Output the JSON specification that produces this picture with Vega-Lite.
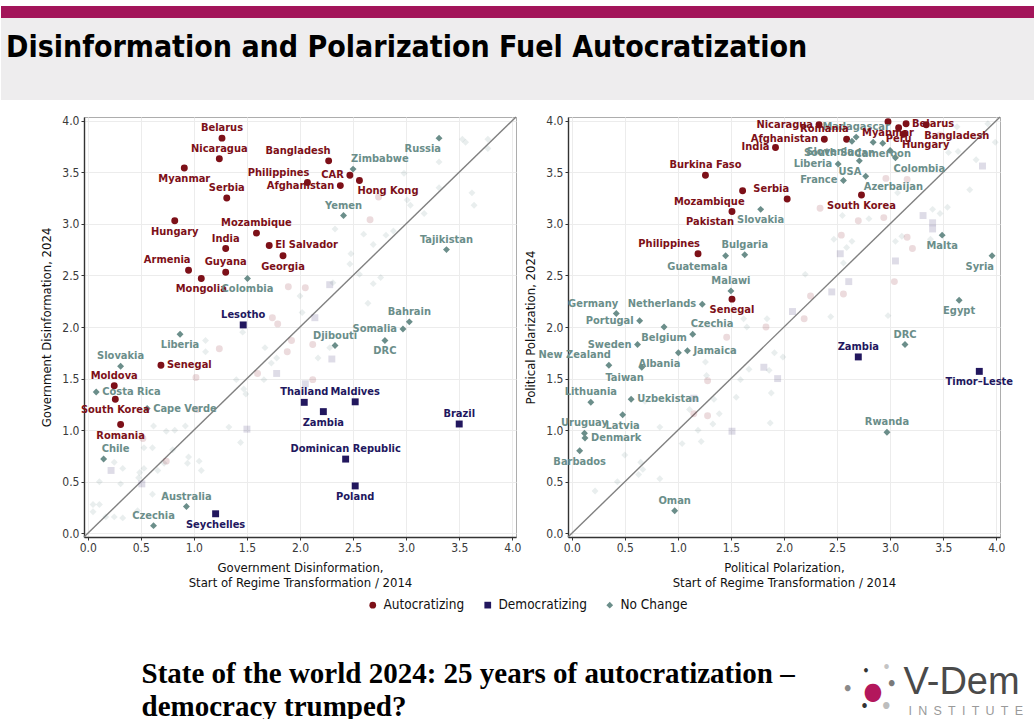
{
  "$schema": "https://vega.github.io/schema/vega-lite/v6.json",
  "background": "white",
  "padding": {"left": 0, "top": 6, "right": 0, "bottom": 0},
  "spacing": 0,
  "config": {
    "font": "DejaVu Sans Condensed, sans-serif",
    "view": {"stroke": null},
    "axis": {
      "labelFontSize": 12, "labelColor": "#3a3a3a", "titleFontSize": 13, "titleFontWeight": "normal",
      "titleColor": "#111", "domainColor": "#333", "domainWidth": 1.4, "tickColor": "#333", "tickSize": 3,
      "labelPadding": 2, "gridColor": "#ececec", "gridWidth": 1, "titlePadding": 8
    },
    "text": {"fontSize": 11, "fontWeight": "bold", "baseline": "middle"},
    "legend": {"labelFontSize": 13.5, "labelColor": "#111", "symbolOpacity": 1, "layout": {"bottom": {"anchor": "middle"}}}
  },
  "resolve": {"scale": {"color": "independent", "shape": "independent", "opacity": "independent"}},
  "datasets": {
    "diag": [{"x": -0.035, "y": -0.035}, {"x": 4.035, "y": 4.035}],
    "gov": [
      {"x":3.53,"y":3.82,"g":"No Change","hl":"no"},{"x":3.56,"y":3.79,"g":"No Change","hl":"no"},{"x":3.77,"y":3.82,"g":"No Change","hl":"no"},{"x":3.77,"y":3.73,"g":"No Change","hl":"no"},
      {"x":3.31,"y":3.60,"g":"No Change","hl":"no"},{"x":2.98,"y":3.49,"g":"No Change","hl":"no"},{"x":3.31,"y":3.35,"g":"No Change","hl":"no"},{"x":3.62,"y":3.30,"g":"No Change","hl":"no"},
      {"x":3.64,"y":3.18,"g":"No Change","hl":"no"},{"x":3.01,"y":3.23,"g":"No Change","hl":"no"},{"x":3.04,"y":3.18,"g":"No Change","hl":"no"},{"x":3.17,"y":3.10,"g":"No Change","hl":"no"},
      {"x":2.74,"y":3.26,"g":"Autocratizing","hl":"no"},{"x":2.66,"y":3.04,"g":"Autocratizing","hl":"no"},{"x":2.33,"y":2.95,"g":"No Change","hl":"no"},{"x":2.60,"y":2.90,"g":"No Change","hl":"no"},
      {"x":2.81,"y":2.89,"g":"No Change","hl":"no"},{"x":2.88,"y":2.93,"g":"No Change","hl":"no"},{"x":2.69,"y":2.80,"g":"No Change","hl":"no"},{"x":2.48,"y":2.71,"g":"No Change","hl":"no"},
      {"x":2.47,"y":2.61,"g":"No Change","hl":"no"},{"x":2.56,"y":2.51,"g":"No Change","hl":"no"},{"x":2.69,"y":2.42,"g":"No Change","hl":"no"},{"x":2.76,"y":2.48,"g":"No Change","hl":"no"},
      {"x":2.28,"y":2.41,"g":"Democratizing","hl":"no"},{"x":2.31,"y":2.43,"g":"No Change","hl":"no"},{"x":1.89,"y":2.39,"g":"Autocratizing","hl":"no"},{"x":2.05,"y":2.38,"g":"Autocratizing","hl":"no"},
      {"x":1.74,"y":2.09,"g":"Autocratizing","hl":"no"},{"x":1.79,"y":2.03,"g":"Autocratizing","hl":"no"},{"x":1.46,"y":1.95,"g":"No Change","hl":"no"},{"x":1.92,"y":1.87,"g":"Autocratizing","hl":"no"},
      {"x":1.11,"y":1.87,"g":"No Change","hl":"no"},{"x":1.11,"y":1.76,"g":"No Change","hl":"no"},{"x":1.24,"y":1.79,"g":"Autocratizing","hl":"no"},{"x":1.67,"y":1.80,"g":"No Change","hl":"no"},
      {"x":1.88,"y":1.76,"g":"Autocratizing","hl":"no"},{"x":1.78,"y":1.70,"g":"No Change","hl":"no"},{"x":1.73,"y":1.65,"g":"No Change","hl":"no"},{"x":1.78,"y":1.55,"g":"Democratizing","hl":"no"},
      {"x":1.60,"y":1.55,"g":"Autocratizing","hl":"no"},{"x":1.02,"y":1.51,"g":"Autocratizing","hl":"no"},{"x":1.40,"y":1.49,"g":"No Change","hl":"no"},{"x":1.47,"y":1.40,"g":"No Change","hl":"no"},
      {"x":1.49,"y":1.35,"g":"No Change","hl":"no"},{"x":1.66,"y":1.49,"g":"No Change","hl":"no"},{"x":1.03,"y":1.20,"g":"Autocratizing","hl":"no"},{"x":0.62,"y":1.04,"g":"No Change","hl":"no"},
      {"x":0.74,"y":0.99,"g":"No Change","hl":"no"},{"x":0.82,"y":1.00,"g":"No Change","hl":"no"},{"x":0.92,"y":1.04,"g":"No Change","hl":"no"},{"x":1.33,"y":1.03,"g":"No Change","hl":"no"},
      {"x":1.50,"y":1.01,"g":"Democratizing","hl":"no"},{"x":0.52,"y":0.92,"g":"Autocratizing","hl":"no"},{"x":1.44,"y":0.88,"g":"No Change","hl":"no"},{"x":0.53,"y":0.83,"g":"No Change","hl":"no"},
      {"x":0.61,"y":0.83,"g":"No Change","hl":"no"},{"x":0.25,"y":0.69,"g":"No Change","hl":"no"},{"x":0.22,"y":0.61,"g":"Democratizing","hl":"no"},{"x":0.33,"y":0.63,"g":"No Change","hl":"no"},
      {"x":0.53,"y":0.63,"g":"No Change","hl":"no"},{"x":0.66,"y":0.61,"g":"No Change","hl":"no"},{"x":0.72,"y":0.68,"g":"No Change","hl":"no"},{"x":0.74,"y":0.70,"g":"Autocratizing","hl":"no"},
      {"x":0.80,"y":0.81,"g":"No Change","hl":"no"},{"x":0.95,"y":0.74,"g":"No Change","hl":"no"},{"x":0.94,"y":0.68,"g":"No Change","hl":"no"},{"x":1.05,"y":0.70,"g":"No Change","hl":"no"},
      {"x":1.07,"y":0.61,"g":"No Change","hl":"no"},{"x":0.49,"y":0.59,"g":"No Change","hl":"no"},{"x":0.48,"y":0.54,"g":"No Change","hl":"no"},{"x":0.11,"y":0.50,"g":"No Change","hl":"no"},
      {"x":0.31,"y":0.48,"g":"No Change","hl":"no"},{"x":0.47,"y":0.22,"g":"No Change","hl":"no"},{"x":0.33,"y":0.15,"g":"No Change","hl":"no"},{"x":0.25,"y":0.16,"g":"No Change","hl":"no"},
      {"x":0.05,"y":0.28,"g":"No Change","hl":"no"},{"x":0.11,"y":0.28,"g":"No Change","hl":"no"},{"x":0.05,"y":0.21,"g":"No Change","hl":"no"},{"x":0.17,"y":0.16,"g":"No Change","hl":"no"},
      {"x":0.61,"y":0.38,"g":"No Change","hl":"no"},{"x":0.73,"y":0.38,"g":"No Change","hl":"no"},{"x":0.51,"y":0.48,"g":"Democratizing","hl":"no"},{"x":2.00,"y":2.30,"g":"No Change","hl":"no"},
      {"x":2.02,"y":2.14,"g":"No Change","hl":"no"},{"x":2.14,"y":2.09,"g":"Democratizing","hl":"no"},{"x":2.64,"y":2.23,"g":"No Change","hl":"no"},{"x":2.12,"y":1.83,"g":"Autocratizing","hl":"no"},
      {"x":2.17,"y":1.70,"g":"No Change","hl":"no"},{"x":2.30,"y":1.69,"g":"Democratizing","hl":"no"},{"x":2.28,"y":1.80,"g":"No Change","hl":"no"},{"x":2.05,"y":1.45,"g":"Democratizing","hl":"no"},
      {"x":2.12,"y":1.49,"g":"Autocratizing","hl":"no"},
      {"c":"Belarus","x":1.265,"y":3.83,"g":"Autocratizing","hl":"yes","side":"above"},
      {"c":"Nicaragua","x":1.24,"y":3.63,"g":"Autocratizing","hl":"yes","side":"above"},
      {"c":"Myanmar","x":0.91,"y":3.54,"g":"Autocratizing","hl":"yes","side":"below"},
      {"c":"Serbia","x":1.31,"y":3.25,"g":"Autocratizing","hl":"yes","side":"above"},
      {"c":"Hungary","x":0.82,"y":3.03,"g":"Autocratizing","hl":"yes","side":"below"},
      {"c":"Mozambique","x":1.59,"y":2.91,"g":"Autocratizing","hl":"yes","side":"above"},
      {"c":"India","x":1.30,"y":2.76,"g":"Autocratizing","hl":"yes","side":"above"},
      {"c":"El Salvador","x":1.71,"y":2.79,"g":"Autocratizing","hl":"yes","side":"right"},
      {"c":"Georgia","x":1.84,"y":2.69,"g":"Autocratizing","hl":"yes","side":"below"},
      {"c":"Armenia","x":0.95,"y":2.55,"g":"Autocratizing","hl":"yes","side":"al"},
      {"c":"Guyana","x":1.30,"y":2.53,"g":"Autocratizing","hl":"yes","side":"above"},
      {"c":"Mongolia","x":1.07,"y":2.47,"g":"Autocratizing","hl":"yes","side":"below"},
      {"c":"Bangladesh","x":2.27,"y":3.61,"g":"Autocratizing","hl":"yes","side":"al"},
      {"c":"Philippines","x":2.07,"y":3.40,"g":"Autocratizing","hl":"yes","side":"al"},
      {"c":"Afghanistan","x":2.38,"y":3.37,"g":"Autocratizing","hl":"yes","side":"left"},
      {"c":"CAR","x":2.47,"y":3.47,"g":"Autocratizing","hl":"yes","side":"left"},
      {"c":"Hong Kong","x":2.56,"y":3.42,"g":"Autocratizing","hl":"yes","side":"br"},
      {"c":"Senegal","x":0.69,"y":1.63,"g":"Autocratizing","hl":"yes","side":"right"},
      {"c":"Moldova","x":0.25,"y":1.43,"g":"Autocratizing","hl":"yes","side":"above"},
      {"c":"South Korea","x":0.26,"y":1.30,"g":"Autocratizing","hl":"yes","side":"below"},
      {"c":"Romania","x":0.31,"y":1.055,"g":"Autocratizing","hl":"yes","side":"below"},
      {"c":"Lesotho","x":1.465,"y":2.02,"g":"Democratizing","hl":"yes","side":"above"},
      {"c":"Seychelles","x":1.205,"y":0.19,"g":"Democratizing","hl":"yes","side":"below"},
      {"c":"Thailand","x":2.04,"y":1.27,"g":"Democratizing","hl":"yes","side":"above"},
      {"c":"Zambia","x":2.22,"y":1.18,"g":"Democratizing","hl":"yes","side":"below"},
      {"c":"Maldives","x":2.52,"y":1.275,"g":"Democratizing","hl":"yes","side":"above"},
      {"c":"Brazil","x":3.50,"y":1.06,"g":"Democratizing","hl":"yes","side":"above"},
      {"c":"Dominican Republic","x":2.43,"y":0.72,"g":"Democratizing","hl":"yes","side":"above"},
      {"c":"Poland","x":2.52,"y":0.46,"g":"Democratizing","hl":"yes","side":"below"},
      {"c":"Colombia","x":1.505,"y":2.47,"g":"No Change","hl":"yes","side":"below"},
      {"c":"Zimbabwe","x":2.50,"y":3.53,"g":"No Change","hl":"yes","side":"ar"},
      {"c":"Yemen","x":2.41,"y":3.08,"g":"No Change","hl":"yes","side":"above"},
      {"c":"Russia","x":3.31,"y":3.83,"g":"No Change","hl":"yes","side":"bl"},
      {"c":"Tajikistan","x":3.38,"y":2.75,"g":"No Change","hl":"yes","side":"above"},
      {"c":"Liberia","x":0.87,"y":1.93,"g":"No Change","hl":"yes","side":"below"},
      {"c":"Slovakia","x":0.31,"y":1.62,"g":"No Change","hl":"yes","side":"above"},
      {"c":"Costa Rica","x":0.08,"y":1.37,"g":"No Change","hl":"yes","side":"right"},
      {"c":"Cape Verde","x":0.56,"y":1.21,"g":"No Change","hl":"yes","side":"right"},
      {"c":"Chile","x":0.15,"y":0.72,"g":"No Change","hl":"yes","side":"ar"},
      {"c":"Australia","x":0.93,"y":0.26,"g":"No Change","hl":"yes","side":"above"},
      {"c":"Czechia","x":0.62,"y":0.075,"g":"No Change","hl":"yes","side":"above"},
      {"c":"Bahrain","x":3.03,"y":2.05,"g":"No Change","hl":"yes","side":"above"},
      {"c":"Somalia","x":2.97,"y":1.98,"g":"No Change","hl":"yes","side":"left"},
      {"c":"DRC","x":2.80,"y":1.87,"g":"No Change","hl":"yes","side":"below"},
      {"c":"Djibouti","x":2.33,"y":1.82,"g":"No Change","hl":"yes","side":"above"}
    ],
    "pol": [
      {"x":3.63,"y":3.94,"g":"No Change","hl":"no"},{"x":3.92,"y":3.97,"g":"No Change","hl":"no"},{"x":3.99,"y":3.79,"g":"No Change","hl":"no"},{"x":3.47,"y":3.86,"g":"Autocratizing","hl":"no"},
      {"x":3.55,"y":3.69,"g":"No Change","hl":"no"},{"x":3.64,"y":3.70,"g":"No Change","hl":"no"},{"x":3.81,"y":3.62,"g":"No Change","hl":"no"},{"x":3.87,"y":3.56,"g":"Democratizing","hl":"no"},
      {"x":3.75,"y":3.33,"g":"No Change","hl":"no"},{"x":3.16,"y":3.43,"g":"Autocratizing","hl":"no"},{"x":2.96,"y":3.44,"g":"Autocratizing","hl":"no"},{"x":3.07,"y":3.30,"g":"No Change","hl":"no"},
      {"x":2.34,"y":3.15,"g":"Autocratizing","hl":"no"},{"x":2.55,"y":3.08,"g":"No Change","hl":"no"},{"x":2.70,"y":3.03,"g":"Autocratizing","hl":"no"},{"x":2.80,"y":3.05,"g":"No Change","hl":"no"},
      {"x":2.94,"y":3.06,"g":"Autocratizing","hl":"no"},{"x":3.40,"y":3.14,"g":"No Change","hl":"no"},{"x":3.47,"y":3.10,"g":"No Change","hl":"no"},{"x":3.54,"y":3.16,"g":"No Change","hl":"no"},
      {"x":3.31,"y":3.08,"g":"Democratizing","hl":"no"},{"x":3.40,"y":3.01,"g":"Democratizing","hl":"no"},{"x":3.40,"y":2.95,"g":"Democratizing","hl":"no"},{"x":2.47,"y":2.85,"g":"No Change","hl":"no"},
      {"x":2.59,"y":2.77,"g":"No Change","hl":"no"},{"x":2.64,"y":2.83,"g":"No Change","hl":"no"},{"x":2.54,"y":2.89,"g":"Autocratizing","hl":"no"},{"x":2.53,"y":2.71,"g":"Democratizing","hl":"no"},
      {"x":2.56,"y":2.62,"g":"No Change","hl":"no"},{"x":3.05,"y":2.83,"g":"No Change","hl":"no"},{"x":3.11,"y":2.88,"g":"No Change","hl":"no"},{"x":3.16,"y":2.87,"g":"Autocratizing","hl":"no"},
      {"x":3.21,"y":2.76,"g":"Autocratizing","hl":"no"},{"x":3.38,"y":2.85,"g":"No Change","hl":"no"},{"x":3.05,"y":2.64,"g":"Democratizing","hl":"no"},{"x":2.20,"y":2.51,"g":"No Change","hl":"no"},
      {"x":2.45,"y":2.34,"g":"Democratizing","hl":"no"},{"x":2.61,"y":2.44,"g":"Democratizing","hl":"no"},{"x":2.56,"y":2.32,"g":"Autocratizing","hl":"no"},{"x":3.04,"y":2.44,"g":"Autocratizing","hl":"no"},
      {"x":2.25,"y":2.30,"g":"Autocratizing","hl":"no"},{"x":1.62,"y":2.08,"g":"No Change","hl":"no"},{"x":1.65,"y":2.00,"g":"No Change","hl":"no"},{"x":1.83,"y":2.00,"g":"Autocratizing","hl":"no"},
      {"x":1.84,"y":2.08,"g":"No Change","hl":"no"},{"x":2.08,"y":2.15,"g":"Democratizing","hl":"no"},{"x":1.46,"y":1.90,"g":"Autocratizing","hl":"no"},{"x":1.52,"y":1.77,"g":"No Change","hl":"no"},
      {"x":1.26,"y":1.66,"g":"No Change","hl":"no"},{"x":1.91,"y":1.75,"g":"No Change","hl":"no"},{"x":1.99,"y":1.71,"g":"No Change","hl":"no"},{"x":1.67,"y":1.59,"g":"No Change","hl":"no"},
      {"x":1.86,"y":1.58,"g":"No Change","hl":"no"},{"x":1.81,"y":1.61,"g":"Democratizing","hl":"no"},{"x":1.94,"y":1.50,"g":"Democratizing","hl":"no"},{"x":1.28,"y":1.48,"g":"Autocratizing","hl":"no"},
      {"x":1.27,"y":1.53,"g":"No Change","hl":"no"},{"x":1.59,"y":1.49,"g":"No Change","hl":"no"},{"x":1.88,"y":1.36,"g":"No Change","hl":"no"},{"x":1.55,"y":1.32,"g":"No Change","hl":"no"},
      {"x":1.34,"y":1.30,"g":"No Change","hl":"no"},{"x":1.15,"y":1.31,"g":"Democratizing","hl":"no"},{"x":1.15,"y":1.16,"g":"Autocratizing","hl":"no"},{"x":1.11,"y":1.20,"g":"No Change","hl":"no"},
      {"x":1.28,"y":1.14,"g":"Autocratizing","hl":"no"},{"x":1.39,"y":1.16,"g":"No Change","hl":"no"},{"x":1.33,"y":1.06,"g":"No Change","hl":"no"},{"x":1.19,"y":1.00,"g":"No Change","hl":"no"},
      {"x":1.51,"y":0.99,"g":"Democratizing","hl":"no"},{"x":1.22,"y":0.89,"g":"No Change","hl":"no"},{"x":1.04,"y":0.87,"g":"No Change","hl":"no"},{"x":1.87,"y":1.07,"g":"No Change","hl":"no"},
      {"x":0.69,"y":1.28,"g":"No Change","hl":"no"},{"x":0.83,"y":1.03,"g":"No Change","hl":"no"},{"x":0.48,"y":0.92,"g":"No Change","hl":"no"},{"x":0.50,"y":0.76,"g":"No Change","hl":"no"},
      {"x":0.65,"y":0.69,"g":"No Change","hl":"no"},{"x":0.67,"y":0.62,"g":"No Change","hl":"no"},{"x":0.63,"y":0.57,"g":"No Change","hl":"no"},{"x":0.83,"y":0.53,"g":"No Change","hl":"no"},
      {"x":0.43,"y":0.50,"g":"No Change","hl":"no"},{"x":0.22,"y":0.41,"g":"No Change","hl":"no"},{"x":2.19,"y":2.08,"g":"Autocratizing","hl":"no"},{"x":2.44,"y":2.10,"g":"No Change","hl":"no"},
      {"x":2.98,"y":2.11,"g":"No Change","hl":"no"},
      {"c":"Burkina Faso","x":1.26,"y":3.47,"g":"Autocratizing","hl":"yes","side":"above"},
      {"c":"India","x":1.92,"y":3.74,"g":"Autocratizing","hl":"yes","side":"left"},
      {"c":"Afghanistan","x":2.38,"y":3.82,"g":"Autocratizing","hl":"yes","side":"left"},
      {"c":"Nicaragua","x":2.33,"y":3.96,"g":"Autocratizing","hl":"yes","side":"left"},
      {"c":"Romania","x":2.59,"y":3.82,"g":"Autocratizing","hl":"yes","side":"al"},
      {"c":"Myanmar","x":2.98,"y":3.99,"g":"Autocratizing","hl":"yes","side":"below"},
      {"c":"Belarus","x":3.15,"y":3.97,"g":"Autocratizing","hl":"yes","side":"right"},
      {"c":"Bangladesh","x":3.34,"y":3.96,"g":"Autocratizing","hl":"yes","side":"br"},
      {"c":"Peru","x":3.08,"y":3.93,"g":"Autocratizing","hl":"yes","side":"below"},
      {"c":"Hungary","x":3.13,"y":3.87,"g":"Autocratizing","hl":"yes","side":"br"},
      {"c":"Serbia","x":2.03,"y":3.24,"g":"Autocratizing","hl":"yes","side":"al"},
      {"c":"Mozambique","x":1.61,"y":3.32,"g":"Autocratizing","hl":"yes","side":"bl"},
      {"c":"Pakistan","x":1.51,"y":3.12,"g":"Autocratizing","hl":"yes","side":"bl"},
      {"c":"South Korea","x":2.73,"y":3.28,"g":"Autocratizing","hl":"yes","side":"below"},
      {"c":"Philippines","x":1.19,"y":2.71,"g":"Autocratizing","hl":"yes","side":"al"},
      {"c":"Senegal","x":1.51,"y":2.27,"g":"Autocratizing","hl":"yes","side":"below"},
      {"c":"Zambia","x":2.70,"y":1.71,"g":"Democratizing","hl":"yes","side":"above"},
      {"c":"Timor–Leste","x":3.84,"y":1.57,"g":"Democratizing","hl":"yes","side":"below"},
      {"c":"Madagascar","x":2.68,"y":3.84,"g":"No Change","hl":"yes","side":"above"},
      {"c":"Slovenia","x":2.64,"y":3.80,"g":"No Change","hl":"yes","side":"bl"},
      {"c":"South Sudan","x":2.84,"y":3.79,"g":"No Change","hl":"yes","side":"bl"},
      {"c":"Cameroon","x":2.93,"y":3.78,"g":"No Change","hl":"yes","side":"below"},
      {"c":"Colombia","x":3.05,"y":3.64,"g":"No Change","hl":"yes","side":"br"},
      {"c":"","x":3.00,"y":3.71,"g":"No Change","hl":"yes"},
      {"c":"Liberia","x":2.51,"y":3.58,"g":"No Change","hl":"yes","side":"left"},
      {"c":"USA","x":2.71,"y":3.61,"g":"No Change","hl":"yes","side":"bl"},
      {"c":"France","x":2.56,"y":3.42,"g":"No Change","hl":"yes","side":"left"},
      {"c":"Azerbaijan","x":2.77,"y":3.46,"g":"No Change","hl":"yes","side":"br"},
      {"c":"Slovakia","x":1.78,"y":3.14,"g":"No Change","hl":"yes","side":"below"},
      {"c":"Guatemala","x":1.45,"y":2.69,"g":"No Change","hl":"yes","side":"bl"},
      {"c":"Bulgaria","x":1.63,"y":2.70,"g":"No Change","hl":"yes","side":"above"},
      {"c":"Malawi","x":1.50,"y":2.35,"g":"No Change","hl":"yes","side":"above"},
      {"c":"Germany","x":0.42,"y":2.13,"g":"No Change","hl":"yes","side":"al"},
      {"c":"Netherlands","x":1.23,"y":2.22,"g":"No Change","hl":"yes","side":"left"},
      {"c":"Portugal","x":0.64,"y":2.06,"g":"No Change","hl":"yes","side":"left"},
      {"c":"Belgium","x":0.87,"y":2.00,"g":"No Change","hl":"yes","side":"below"},
      {"c":"Sweden","x":0.62,"y":1.83,"g":"No Change","hl":"yes","side":"left"},
      {"c":"Czechia","x":1.14,"y":1.93,"g":"No Change","hl":"yes","side":"ar"},
      {"c":"Jamaica","x":1.09,"y":1.77,"g":"No Change","hl":"yes","side":"right"},
      {"c":"Albania","x":1.005,"y":1.75,"g":"No Change","hl":"yes","side":"bl"},
      {"c":"New Zealand","x":0.35,"y":1.63,"g":"No Change","hl":"yes","side":"al"},
      {"c":"Taiwan","x":0.66,"y":1.61,"g":"No Change","hl":"yes","side":"bl"},
      {"c":"Lithuania","x":0.18,"y":1.27,"g":"No Change","hl":"yes","side":"above"},
      {"c":"Uzbekistan","x":0.56,"y":1.30,"g":"No Change","hl":"yes","side":"right"},
      {"c":"Latvia","x":0.48,"y":1.15,"g":"No Change","hl":"yes","side":"below"},
      {"c":"Uruguay","x":0.12,"y":0.97,"g":"No Change","hl":"yes","side":"above"},
      {"c":"Denmark","x":0.125,"y":0.925,"g":"No Change","hl":"yes","side":"right"},
      {"c":"Barbados","x":0.075,"y":0.80,"g":"No Change","hl":"yes","side":"below"},
      {"c":"Oman","x":0.97,"y":0.22,"g":"No Change","hl":"yes","side":"above"},
      {"c":"Egypt","x":3.65,"y":2.26,"g":"No Change","hl":"yes","side":"below"},
      {"c":"Malta","x":3.49,"y":2.89,"g":"No Change","hl":"yes","side":"below"},
      {"c":"Syria","x":3.96,"y":2.69,"g":"No Change","hl":"yes","side":"bl"},
      {"c":"DRC","x":3.14,"y":1.83,"g":"No Change","hl":"yes","side":"above"},
      {"c":"Rwanda","x":2.97,"y":0.98,"g":"No Change","hl":"yes","side":"above"}
    ]
  },
  "vconcat": [
    {
      "width": 1034, "height": 12,
      "data": {"values": [{"part": "band"}]},
      "mark": {"type": "rect", "color": "#a3155a"},
      "encoding": {}
    },
    {
      "width": 1034, "height": 82,
      "view": {"fill": "#eeedee", "stroke": null},
      "data": {"values": [{"t": "Disinformation and Polarization Fuel Autocratization"}]},
      "mark": {"type": "text", "align": "left", "baseline": "middle", "fontSize": 30, "fontWeight": "bold", "color": "#000", "dx": 5},
      "encoding": {
        "x": {"datum": 0, "type": "quantitative", "scale": {"domain": [0, 1]}, "axis": null},
        "y": {"datum": 0.63, "type": "quantitative", "scale": {"domain": [0, 1]}, "axis": null},
        "text": {"field": "t"}
      }
    },
    {
      "width": 1, "height": 11,
      "view": {"stroke": "transparent"},
      "data": {"values": []},
      "mark": "point"
    },
    {
      "spacing": 0,
      "resolve": {"scale": {"color": "independent", "shape": "independent", "opacity": "independent"}},
      "hconcat": [
        {
          "width": 38, "height": 1,
          "view": {"stroke": "transparent"},
          "data": {"values": []},
          "mark": "point"
        },
        {
          "spacing": 2,
          "hconcat": [
            {
              "width": 432, "height": 420,
              "view": {"stroke": "#adadad"},
              "data": {"name": "gov"},
              "encoding": {
                "x": {"field": "x", "type": "quantitative", "scale": {"domain": [-0.035, 4.035], "nice": false, "zero": false},
                      "axis": {"values": [0, 0.5, 1, 1.5, 2, 2.5, 3, 3.5, 4], "format": ".1f", "title": ["Government Disinformation,", "Start of Regime Transformation / 2014"]}},
                "y": {"field": "y", "type": "quantitative", "scale": {"domain": [-0.035, 4.035], "nice": false, "zero": false},
                      "axis": {"values": [0, 0.5, 1, 1.5, 2, 2.5, 3, 3.5, 4], "format": ".1f", "title": "Government Disinformation, 2024"}}
              },
              "layer": [
                {"data": {"name": "diag"}, "mark": {"type": "line", "color": "#808080", "strokeWidth": 1.4}, "encoding": {}},
                {"mark": {"type": "point", "filled": true, "size": 48},
                 "encoding": {
                   "color": {"field": "g", "type": "nominal", "scale": {"domain": ["Autocratizing", "Democratizing", "No Change"], "range": ["#7d1018", "#22175e", "#6b8e8a"]},
                             "legend": {"orient": "bottom", "title": null, "direction": "horizontal", "symbolSize": 45, "columnPadding": 16, "offset": 8}},
                   "shape": {"field": "g", "type": "nominal", "scale": {"domain": ["Autocratizing", "Democratizing", "No Change"], "range": ["circle", "square", "diamond"]},
                             "legend": {"orient": "bottom", "title": null, "direction": "horizontal", "symbolSize": 45, "columnPadding": 16, "offset": 8}},
                   "opacity": {"field": "hl", "type": "nominal", "scale": {"domain": ["yes", "no"], "range": [1, 0.15]}, "legend": null}
                 }},
                {"transform": [{"filter": "datum.side === 'above'"}], "mark": {"type": "text", "dy": -10}, "encoding": {"text": {"field": "c"}, "color": {"field": "g", "type": "nominal"}}},
                {"transform": [{"filter": "datum.side === 'below'"}], "mark": {"type": "text", "dy": 11}, "encoding": {"text": {"field": "c"}, "color": {"field": "g", "type": "nominal"}}},
                {"transform": [{"filter": "datum.side === 'left'"}], "mark": {"type": "text", "align": "right", "dx": -6}, "encoding": {"text": {"field": "c"}, "color": {"field": "g", "type": "nominal"}}},
                {"transform": [{"filter": "datum.side === 'right'"}], "mark": {"type": "text", "align": "left", "dx": 6}, "encoding": {"text": {"field": "c"}, "color": {"field": "g", "type": "nominal"}}},
                {"transform": [{"filter": "datum.side === 'al'"}], "mark": {"type": "text", "align": "right", "dx": 2, "dy": -10}, "encoding": {"text": {"field": "c"}, "color": {"field": "g", "type": "nominal"}}},
                {"transform": [{"filter": "datum.side === 'ar'"}], "mark": {"type": "text", "align": "left", "dx": -2, "dy": -10}, "encoding": {"text": {"field": "c"}, "color": {"field": "g", "type": "nominal"}}},
                {"transform": [{"filter": "datum.side === 'bl'"}], "mark": {"type": "text", "align": "right", "dx": 2, "dy": 11}, "encoding": {"text": {"field": "c"}, "color": {"field": "g", "type": "nominal"}}},
                {"transform": [{"filter": "datum.side === 'br'"}], "mark": {"type": "text", "align": "left", "dx": -2, "dy": 11}, "encoding": {"text": {"field": "c"}, "color": {"field": "g", "type": "nominal"}}}
              ]
            },
            {
              "width": 432, "height": 420,
              "view": {"stroke": "#adadad"},
              "data": {"name": "pol"},
              "encoding": {
                "x": {"field": "x", "type": "quantitative", "scale": {"domain": [-0.035, 4.035], "nice": false, "zero": false},
                      "axis": {"values": [0, 0.5, 1, 1.5, 2, 2.5, 3, 3.5, 4], "format": ".1f", "title": ["Political Polarization,", "Start of Regime Transformation / 2014"]}},
                "y": {"field": "y", "type": "quantitative", "scale": {"domain": [-0.035, 4.035], "nice": false, "zero": false},
                      "axis": {"values": [0, 0.5, 1, 1.5, 2, 2.5, 3, 3.5, 4], "format": ".1f", "title": "Political Polarization, 2024"}}
              },
              "layer": [
                {"data": {"name": "diag"}, "mark": {"type": "line", "color": "#808080", "strokeWidth": 1.4}, "encoding": {}},
                {"mark": {"type": "point", "filled": true, "size": 48},
                 "encoding": {
                   "color": {"field": "g", "type": "nominal", "scale": {"domain": ["Autocratizing", "Democratizing", "No Change"], "range": ["#7d1018", "#22175e", "#6b8e8a"]},
                             "legend": {"orient": "bottom", "title": null, "direction": "horizontal", "symbolSize": 45, "columnPadding": 16, "offset": 8}},
                   "shape": {"field": "g", "type": "nominal", "scale": {"domain": ["Autocratizing", "Democratizing", "No Change"], "range": ["circle", "square", "diamond"]},
                             "legend": {"orient": "bottom", "title": null, "direction": "horizontal", "symbolSize": 45, "columnPadding": 16, "offset": 8}},
                   "opacity": {"field": "hl", "type": "nominal", "scale": {"domain": ["yes", "no"], "range": [1, 0.15]}, "legend": null}
                 }},
                {"transform": [{"filter": "datum.side === 'above'"}], "mark": {"type": "text", "dy": -10}, "encoding": {"text": {"field": "c"}, "color": {"field": "g", "type": "nominal"}}},
                {"transform": [{"filter": "datum.side === 'below'"}], "mark": {"type": "text", "dy": 11}, "encoding": {"text": {"field": "c"}, "color": {"field": "g", "type": "nominal"}}},
                {"transform": [{"filter": "datum.side === 'left'"}], "mark": {"type": "text", "align": "right", "dx": -6}, "encoding": {"text": {"field": "c"}, "color": {"field": "g", "type": "nominal"}}},
                {"transform": [{"filter": "datum.side === 'right'"}], "mark": {"type": "text", "align": "left", "dx": 6}, "encoding": {"text": {"field": "c"}, "color": {"field": "g", "type": "nominal"}}},
                {"transform": [{"filter": "datum.side === 'al'"}], "mark": {"type": "text", "align": "right", "dx": 2, "dy": -10}, "encoding": {"text": {"field": "c"}, "color": {"field": "g", "type": "nominal"}}},
                {"transform": [{"filter": "datum.side === 'ar'"}], "mark": {"type": "text", "align": "left", "dx": -2, "dy": -10}, "encoding": {"text": {"field": "c"}, "color": {"field": "g", "type": "nominal"}}},
                {"transform": [{"filter": "datum.side === 'bl'"}], "mark": {"type": "text", "align": "right", "dx": 2, "dy": 11}, "encoding": {"text": {"field": "c"}, "color": {"field": "g", "type": "nominal"}}},
                {"transform": [{"filter": "datum.side === 'br'"}], "mark": {"type": "text", "align": "left", "dx": -2, "dy": 11}, "encoding": {"text": {"field": "c"}, "color": {"field": "g", "type": "nominal"}}}
              ]
            }
          ]
        }
      ]
    },
    {
      "width": 1, "height": 46,
      "view": {"stroke": "transparent"},
      "data": {"values": []},
      "mark": "point"
    },
    {
      "spacing": 47,
      "hconcat": [
        {
          "width": 92, "height": 1,
          "view": {"stroke": "transparent"},
          "data": {"values": []},
          "mark": "point"
        },
        {
          "width": 1, "height": 33,
          "data": {"values": [
            {"line": 1, "t": "State of the world 2024: 25 years of autocratization –"},
            {"line": 2, "t": "democracy trumped?"}
          ]},
          "mark": {"type": "text", "align": "left", "baseline": "alphabetic", "font": "Liberation Serif, DejaVu Serif, serif", "fontSize": 29, "fontWeight": "bold", "color": "#000"},
          "encoding": {
            "y": {"field": "line", "type": "ordinal", "axis": null, "scale": {"padding": 0}},
            "text": {"field": "t"}
          }
        },
        {
          "width": 1, "height": 33,
          "data": {"values": [{"mark": "●", "dot": "•", "name": "V-Dem", "sub": "I\u2002N\u2002S\u2002T\u2002I\u2002T\u2002U\u2002T\u2002E"}]},
          "layer": [
            {"mark": {"type": "text", "align": "left", "baseline": "middle", "fontSize": 18, "color": "#8a8a8a", "dx": 0, "dy": -10}, "encoding": {"text": {"field": "dot"}}},
            {"mark": {"type": "text", "align": "left", "baseline": "middle", "fontSize": 12, "color": "#333333", "dx": 20, "dy": -29}, "encoding": {"text": {"field": "dot"}}},
            {"mark": {"type": "text", "align": "left", "baseline": "middle", "fontSize": 14, "color": "#c4c4c4", "dx": 40, "dy": -32}, "encoding": {"text": {"field": "dot"}}},
            {"mark": {"type": "text", "align": "left", "baseline": "middle", "fontSize": 18, "color": "#7a7a7a", "dx": 44, "dy": -15}, "encoding": {"text": {"field": "dot"}}},
            {"mark": {"type": "text", "align": "left", "baseline": "middle", "fontSize": 14, "color": "#333333", "dx": 18, "dy": 7}, "encoding": {"text": {"field": "dot"}}},
            {"mark": {"type": "text", "align": "left", "baseline": "middle", "fontSize": 20, "color": "#bdbdbd", "dx": 38, "dy": 7}, "encoding": {"text": {"field": "dot"}}},
            {"mark": {"type": "text", "align": "left", "baseline": "middle", "fontSize": 24, "color": "#b3175c", "dx": 21, "dy": -8}, "encoding": {"text": {"field": "mark"}}},
            {"mark": {"type": "text", "align": "left", "baseline": "alphabetic", "font": "Liberation Sans, Arial, sans-serif", "fontWeight": "normal", "fontSize": 38, "color": "#4a4a4a", "dx": 61, "dy": -6}, "encoding": {"text": {"field": "name"}}},
            {"mark": {"type": "text", "align": "left", "baseline": "alphabetic", "font": "Liberation Sans, Arial, sans-serif", "fontWeight": "normal", "fontSize": 12.5, "color": "#9a9a9a", "dx": 66, "dy": 15}, "encoding": {"text": {"field": "sub"}}}
          ]
        }
      ]
    }
  ]
}
